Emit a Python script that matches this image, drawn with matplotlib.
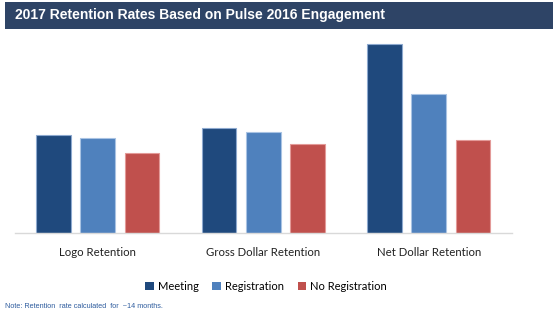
import matplotlib
matplotlib.use("Agg")
import matplotlib.pyplot as plt
import numpy as np
from matplotlib.patches import Rectangle, Patch

# ─── Data (relative bar heights; no axis scale shown) ───
categories = ["Logo Retention", "Gross Dollar Retention", "Net Dollar Retention"]
series = ["Meeting", "Registration", "No Registration"]
meeting = [97.7, 105.0, 188.4]
registration = [95.0, 100.7, 138.7]
no_registration = [79.7, 89.0, 92.7]

COLORS = ["#1F497D", "#4F81BD", "#C0504D"]
EDGES = ["#8DA9CF", "#A9C3E3", "#E39A98"]

W, H = 553, 323
fig = plt.figure(figsize=(W / 100, H / 100), dpi=100)

# title bar
fig.patches.append(Rectangle((5 / W, 1 - 29 / H), 1 - 5 / W, 27 / H,
                             transform=fig.transFigure, facecolor="#2E4466",
                             edgecolor="none", zorder=0))
fig.text(15 / W, 1 - 15.5 / H, "2017 Retention Rates Based on Pulse 2016 Engagement",
         color="white", fontsize=10.0, fontweight="bold", family="Liberation Sans",
         ha="left", va="center")

ax = fig.add_axes([15 / W, 1 - 232.7 / H, (511.5 - 15) / W, 200 / H])
x = np.arange(len(categories))
step = 0.268
width = 0.21
for i, (vals, c, ec, name) in enumerate(zip([meeting, registration, no_registration],
                                            COLORS, EDGES, series)):
    ax.bar(x + (i - 1) * step, vals, width=width, color=c, edgecolor=ec,
           linewidth=0.8, label=name, zorder=2)

ax.set_xlim(-0.5, 2.5)
ax.set_ylim(0, 200)
for s in ["top", "right", "left"]:
    ax.spines[s].set_visible(False)
ax.spines["bottom"].set_color("#D9D9D9")
ax.spines["bottom"].set_linewidth(1)
ax.set_yticks([])
ax.set_xticks(x)
ax.set_xticklabels(categories, fontsize=8.2, family="Lato", color="#222222")
ax.tick_params(axis="x", length=0, pad=10)

handles = [Patch(facecolor=c, edgecolor="none") for c in COLORS]
fig.legend(handles, series, loc="center", bbox_to_anchor=(266 / W, 1 - 286 / H),
           ncol=3, frameon=False, prop={"family": "Lato", "size": 8.0},
           handlelength=0.75, handleheight=0.75, handletextpad=0.35, columnspacing=1.25)

fig.text(5 / W, 1 - 306 / H, "Note: Retention  rate calculated  for  ~14 months.",
         color="#2E5C9E", fontsize=5.2, family="Liberation Sans", ha="left", va="center")

fig.savefig("out.png", dpi=100)
